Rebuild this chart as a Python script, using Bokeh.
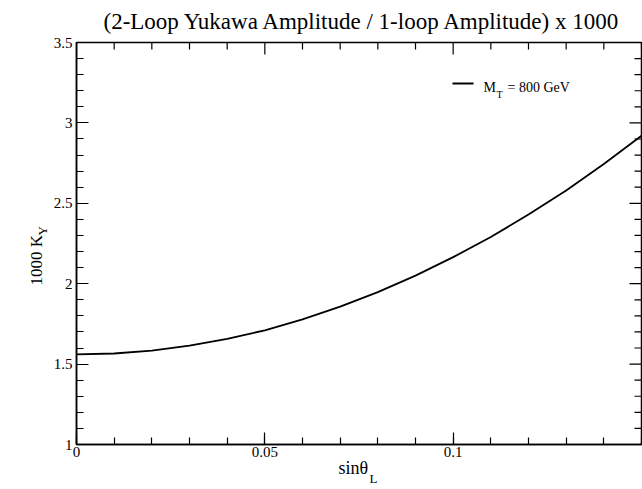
import numpy as np
from bokeh.plotting import figure
from bokeh.models import (Range1d, FixedTicker, NumeralTickFormatter, Label, Arrow, Title)
from bokeh.embed import file_html
from bokeh.resources import INLINE

# ---- data ----
sin_theta = [0.0, 0.01, 0.02, 0.03, 0.04, 0.05, 0.06, 0.07, 0.08, 0.09,
             0.10, 0.11, 0.12, 0.13, 0.14, 0.15]
k_y_1000 = [1.560, 1.566, 1.584, 1.615, 1.657, 1.710, 1.778, 1.857, 1.948, 2.050,
            2.165, 2.290, 2.430, 2.580, 2.745, 2.920]
x_ticks = [0.0, 0.05, 0.1]
y_ticks = [1.0, 1.5, 2.0, 2.5, 3.0, 3.5]
title_text = "(2-Loop Yukawa Amplitude / 1-loop Amplitude) x 1000"
x_label, x_label_sub = "sin\u03b8", "L"
y_label, y_label_sub = "1000 K", "Y"
legend_main, legend_sub, legend_rest = "M", "T", "= 800 GeV"

FONT = "Liberation Serif"
W, H = 642, 489
BL, BR, BT, BB = 76, 1, 42, 45
X0, X1, Y0, Y1 = 0.0, 0.15, 1.0, 3.5

p = figure(width=W, height=H, output_backend="svg", toolbar_location=None,
           title=None, x_range=Range1d(X0, X1), y_range=Range1d(Y0, Y1),
           min_border_left=BL, min_border_right=BR, min_border_top=BT,
           min_border_bottom=BB)
p.grid.visible = False
p.outline_line_color = "black"
p.outline_line_width = 1.5

x_minor = list(np.round(np.arange(X0, X1 + 1e-9, 0.01), 4))
y_minor = list(np.round(np.arange(Y0, Y1 + 1e-9, 0.1), 4))
p.xaxis.ticker = FixedTicker(ticks=x_ticks, minor_ticks=x_minor)
p.yaxis.ticker = FixedTicker(ticks=y_ticks, minor_ticks=y_minor)
p.xaxis.formatter = NumeralTickFormatter(format="0.[00]")
p.yaxis.formatter = NumeralTickFormatter(format="0.[0]")

MAJ, MIN = 12, 7
for ax in [p.xaxis[0], p.yaxis[0]]:
    ax.axis_line_color = "black"
    ax.axis_line_width = 1.5
    ax.major_tick_in = MAJ
    ax.major_tick_out = 0
    ax.minor_tick_in = MIN
    ax.minor_tick_out = 0
    ax.major_tick_line_color = "black"
    ax.minor_tick_line_color = "black"
    ax.major_tick_line_width = 1.2
    ax.minor_tick_line_width = 1.2
    ax.major_label_text_font = FONT
    ax.major_label_text_font_size = "15px"
    ax.major_label_text_color = "black"
p.xaxis[0].major_label_standoff = 2
p.yaxis[0].major_label_standoff = 4

# mirrored ticks on the top and right edges (lengths converted from px to data units)
fw, fh = W - BL - BR, H - BT - BB
dx_px, dy_px = (X1 - X0) / fw, (Y1 - Y0) / fh
xm = [t for t in x_minor if min(abs(t - v) for v in x_ticks) > 1e-9]
ym = [t for t in y_minor if min(abs(t - v) for v in y_ticks) > 1e-9]
p.segment(x0=x_ticks, y0=[Y1] * len(x_ticks), x1=x_ticks, y1=[Y1 - MAJ * dy_px] * len(x_ticks),
          line_color="black", line_width=1.2)
p.segment(x0=xm, y0=[Y1] * len(xm), x1=xm, y1=[Y1 - MIN * dy_px] * len(xm),
          line_color="black", line_width=1.2)
p.segment(x0=[X1] * len(y_ticks), y0=y_ticks, x1=[X1 - MAJ * dx_px] * len(y_ticks), y1=y_ticks,
          line_color="black", line_width=1.2)
p.segment(x0=[X1] * len(ym), y0=ym, x1=[X1 - MIN * dx_px] * len(ym), y1=ym,
          line_color="black", line_width=1.2)

p.line(sin_theta, k_y_1000, line_color="black", line_width=1.8)

def title(text, side, size, offset, standoff, valign):
    p.add_layout(Title(text=text, align="left", offset=offset, standoff=standoff,
                       vertical_align=valign, text_font=FONT, text_font_size=size,
                       text_font_style="normal", text_color="black"), side)

title(title_text, "above", "23px", 27, 14, "top")
title(x_label, "below", "18px", 262, -4, "top")
title(x_label_sub, "below", "13px", 293, -14, "top")
title(y_label_sub, "left", "13px", 444 - 235, -2, "top")
title(y_label, "left", "17px", 444 - 285, -20, "bottom")

# legend
p.add_layout(Arrow(start=None, end=None, x_start=376, y_start=361, x_end=397, y_end=361,
                   start_units="screen", end_units="screen", line_color="black",
                   line_width=1.8))
def lab(text, x, y, size):
    p.add_layout(Label(x=x, y=y, x_units="screen", y_units="screen", text=text,
                       text_font=FONT, text_font_size=size, text_color="black",
                       text_align="left", text_baseline="alphabetic"))
lab(legend_main, 407, 357, "14px")
lab(legend_sub, 420, 350, "10px")
lab(legend_rest, 431, 357, "14px")

open("out.html", "w").write(file_html(p, INLINE))
